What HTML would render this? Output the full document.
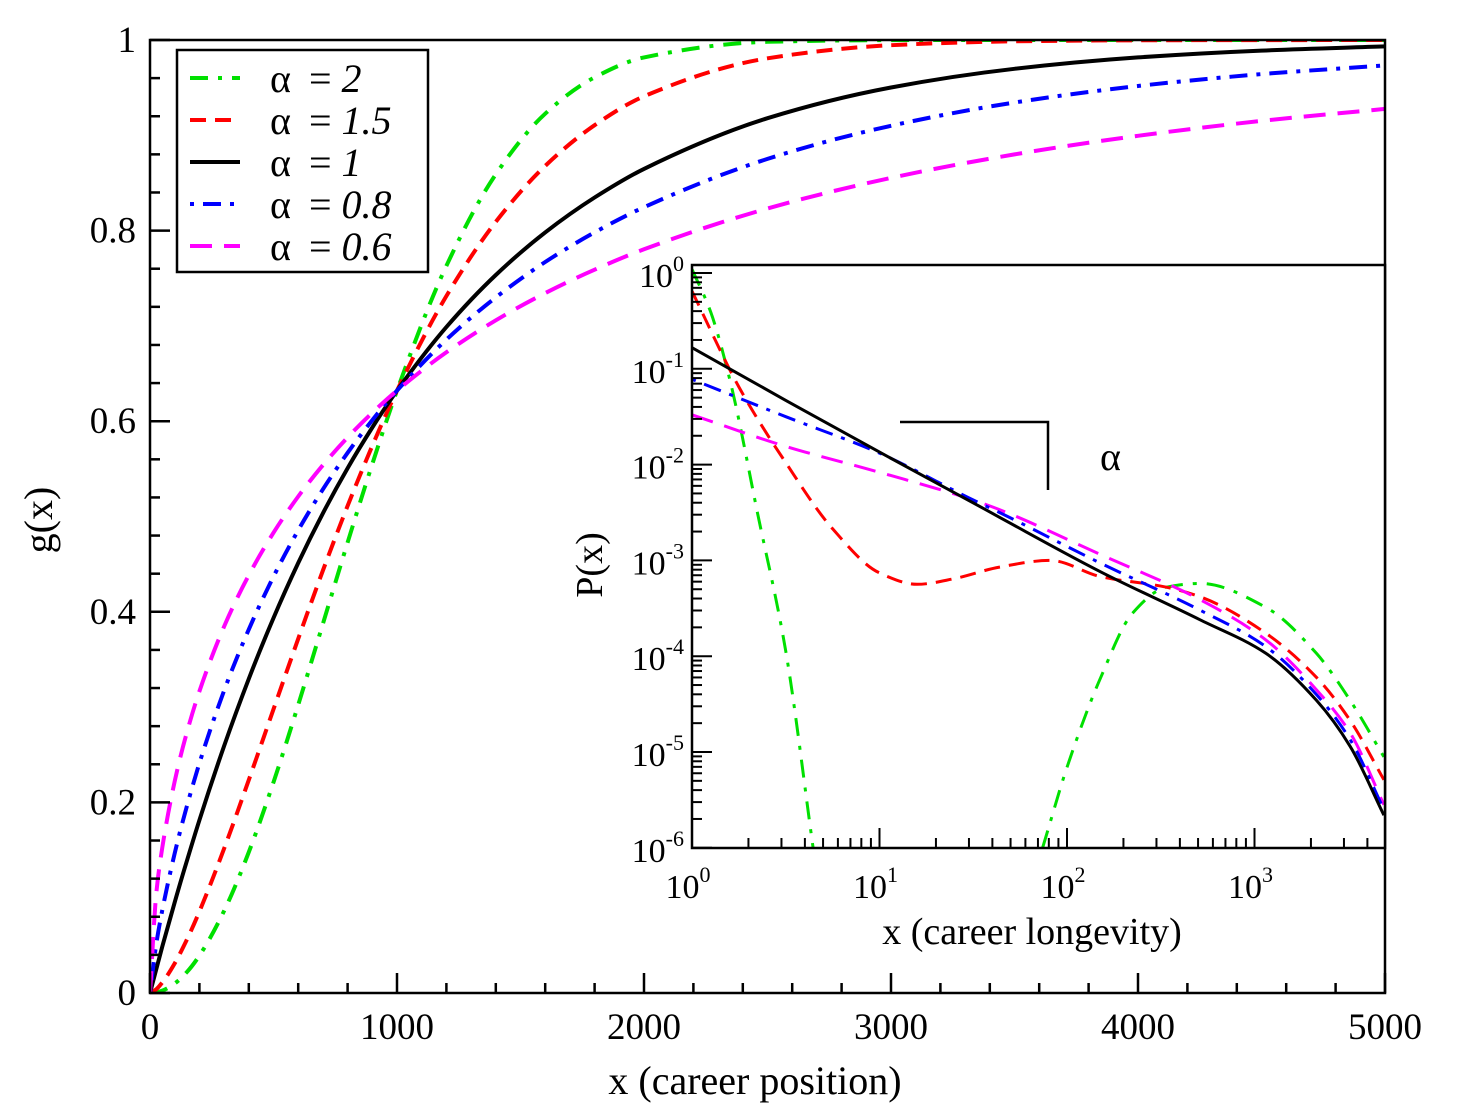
<!DOCTYPE html>
<html><head><meta charset="utf-8"><style>
html,body{margin:0;padding:0;background:#fff;}
svg{display:block;font-family:"Liberation Serif",serif;}
</style></head><body>
<svg id="chart" width="1460" height="1114" viewBox="0 0 1460 1114" xmlns="http://www.w3.org/2000/svg">
<defs>
<clipPath id="mainClip"><rect x="150" y="40" width="1235" height="953"/></clipPath>
<clipPath id="insetClip"><rect x="692" y="265" width="693" height="583"/></clipPath>
</defs>
<g id="main"></g>
<g id="inset"></g>
</svg>
<script>
// ---- main chart data ----
const xSamples = [0,25,50,100,150,200,300,400,500,600,700,800,900,1000,1200,1400,1600,1800,2000,2500,3000,3500,4000,4500,5000];
const gAlpha2  = [0,.0006,.0025,.00995,.0222,.0392,.0861,.1479,.2212,.3023,.3874,.4727,.5551,.6321,.7631,.8591,.9227,.9608,.9817,.9981,.9999,1,1,1,1];
const gAlpha15 = [0,.0039,.0111,.0311,.0565,.0855,.1515,.2236,.2978,.3717,.4433,.5111,.5742,.6321,.7314,.8092,.8679,.9106,.9409,.9808,.9945,.9986,.9997,.9999,1];
const gAlpha1  = [0,.0247,.0488,.0952,.1393,.1813,.2592,.3297,.3935,.4512,.5034,.5507,.5934,.6321,.6988,.7534,.7981,.8347,.8647,.9179,.9502,.9698,.9817,.9889,.9933];
const gAlpha08 = [0,.0509,.0870,.1466,.1968,.2411,.3173,.3815,.4369,.4855,.5285,.5668,.6012,.6321,.6856,.7299,.7670,.7981,.8246,.8752,.9100,.9344,.9517,.9642,.9733];
const gAlpha06 = [0,.1035,.1527,.2221,.2742,.3166,.3846,.4384,.4830,.5210,.5539,.5830,.6089,.6321,.6723,.7059,.7344,.7590,.7804,.8232,.8553,.8800,.8995,.9151,.9277];
const xTickLabels = ["0","1000","2000","3000","4000","5000"];
const yTickLabels = ["0","0.2","0.4","0.6","0.8","1"];
const legendLabels = ["2","1.5","1","0.8","0.6"];

// ---- inset data (log10 x, log10 P) ----
const insLogX_black = [0,0.5,1,1.5,1.64,2.18,2.71,3.06,3.33,3.51,3.69];
const insLogP_black = [-0.78,-1.33,-1.87,-2.4,-2.55,-3.12,-3.62,-3.97,-4.46,-4.94,-5.66];
const insLogX_blue  = [0,0.5,1,1.5,1.64,2.18,2.71,3.06,3.33,3.51,3.69];
const insLogP_blue  = [-1.11,-1.5,-1.88,-2.37,-2.5,-3.03,-3.52,-3.90,-4.40,-4.87,-5.6];
const insLogX_mag   = [0,0.5,1,1.5,1.64,2.18,2.71,3.06,3.33,3.51,3.69];
const insLogP_mag   = [-1.48,-1.81,-2.08,-2.37,-2.47,-2.94,-3.41,-3.83,-4.35,-4.8,-5.55];
const insLogX_red   = [0,0.25,0.5,0.75,1,1.2,1.4,1.64,1.91,2.18,2.53,2.71,3.06,3.33,3.51,3.69];
const insLogP_red   = [-0.19,-1.19,-1.98,-2.67,-3.13,-3.25,-3.19,-3.07,-3.0,-3.17,-3.28,-3.38,-3.76,-4.22,-4.67,-5.29];
const insLogX_greenA = [0,0.1,0.2,0.35,0.5,0.646];
const insLogP_greenA = [0.04,-0.41,-1.1,-2.51,-3.95,-6];
const insLogX_greenB = [1.87,2.0,2.18,2.35,2.53,2.71,3.06,3.33,3.51,3.69];
const insLogP_greenB = [-6,-5.16,-4.22,-3.55,-3.28,-3.24,-3.49,-3.97,-4.46,-5.05];
const insXTickExp = ["0","1","2","3"];
const insYTickExp = ["0","-1","-2","-3","-4","-5","-6"];

const NS="http://www.w3.org/2000/svg";
function mk(tag,attrs,parent){const e=document.createElementNS(NS,tag);for(const k in attrs)e.setAttribute(k,attrs[k]);parent.appendChild(e);return e;}
function smoothPath(pts){
  const n=pts.length;
  const h=[],s=[];
  for(let i=0;i<n-1;i++){h[i]=pts[i+1][0]-pts[i][0];s[i]=(pts[i+1][1]-pts[i][1])/(h[i]||1e-9);}
  const m=[];
  m[0]=s[0];m[n-1]=s[n-2];
  for(let i=1;i<n-1;i++){
    if(s[i-1]*s[i]<=0)m[i]=0;
    else{const w1=2*h[i]+h[i-1],w2=h[i]+2*h[i-1];m[i]=(w1+w2)/(w1/s[i-1]+w2/s[i]);}
  }
  let d="M"+pts[0][0].toFixed(1)+","+pts[0][1].toFixed(1);
  for(let i=0;i<n-1;i++){
    const dx=h[i]/3;
    d+=" C"+(pts[i][0]+dx).toFixed(1)+","+(pts[i][1]+m[i]*dx).toFixed(1)+" "+(pts[i+1][0]-dx).toFixed(1)+","+(pts[i+1][1]-m[i+1]*dx).toFixed(1)+" "+pts[i+1][0].toFixed(1)+","+pts[i+1][1].toFixed(1);
  }
  return d;
}
const styles={
  a2:{stroke:"#00e000",dash:"18,10,4,10"},
  a15:{stroke:"#ff0000",dash:"16,9"},
  a1:{stroke:"#000000",dash:""},
  a08:{stroke:"#0000ff",dash:"4,9,18,9"},
  a06:{stroke:"#ff00ff",dash:"22,12"}
};

// ---- main ----
const main=document.getElementById("main");
const X0=150,X1=1385,Y0=993,Y1=40;
const sx=v=>X0+(v/5000)*(X1-X0);
const sy=v=>Y0-v*(Y0-Y1);
const mainSeries=[["a2",gAlpha2],["a15",gAlpha15],["a1",gAlpha1],["a08",gAlpha08],["a06",gAlpha06]];
const mc=mk("g",{"clip-path":"url(#mainClip)"},main);
mainSeries.forEach(([k,vals])=>{
  const p=mk("path",{d:smoothPath(xSamples.map((x,i)=>[sx(x),sy(vals[i])])),fill:"none",stroke:styles[k].stroke,"stroke-width":4,"stroke-dasharray":styles[k].dash},mc);
  
  
});
const frame=mk("rect",{x:X0,y:Y1,width:X1-X0,height:Y0-Y1,fill:"none",stroke:"#000","stroke-width":2.5},main);


const xt=mk("g",{},main);


for(let v=0;v<=5000;v+=200){const L=(v%1000===0)?20:10;mk("line",{x1:sx(v),x2:sx(v),y1:Y0,y2:Y0-L,stroke:"#000","stroke-width":2.5},xt);}
xTickLabels.forEach((t,i)=>{
  const e=mk("text",{x:sx(i*1000),y:Y0+46,"font-size":37,"text-anchor":"middle"},xt);e.textContent=t;
  
  
});
const yt=mk("g",{},main);


for(let i=0;i<=25;i++){const v=i*0.04;const L=(i%5===0)?20:10;mk("line",{x1:X0,x2:X0+L,y1:sy(v),y2:sy(v),stroke:"#000","stroke-width":2.5},yt);}
yTickLabels.forEach((t,i)=>{
  const e=mk("text",{x:X0-14,y:sy(i*0.2)+12,"font-size":37,"text-anchor":"end"},yt);e.textContent=t;
  
  
});
const xtitle=mk("text",{x:755,y:1094,"font-size":40,"text-anchor":"middle"},main);xtitle.textContent="x (career position)";


const ytitle=mk("text",{x:0,y:0,"font-size":40,"text-anchor":"middle",transform:"translate(52,520) rotate(-90)"},main);ytitle.textContent="g(x)";



// legend
const leg=mk("g",{},main);


mk("rect",{x:177,y:50,width:251,height:222,fill:"#fff",stroke:"#000","stroke-width":2.5},leg);
["a2","a15","a1","a08","a06"].forEach((k,i)=>{
  const y=78+i*42;
  const g=mk("g",{},leg);
  
  
  mk("line",{x1:190,x2:240,y1:y,y2:y,stroke:styles[k].stroke,"stroke-width":4,"stroke-dasharray":styles[k].dash},g);
  const t=mk("text",{x:270,y:y+14,"font-size":40},g);
  t.innerHTML='α <tspan dx="8">=</tspan> <tspan font-style="italic">'+legendLabels[i]+'</tspan>';
});

// ---- inset ----
const ins=document.getElementById("inset");
const IX0=692,IX1=1385,IYT=265,IYB=848;
const decX=187.5, decY=95.8, IY0=273;
const lx=l=>IX0+l*decX;
const ly=l=>IY0-l*decY;
mk("rect",{x:IX0,y:IYT,width:IX1-IX0,height:IYB-IYT,fill:"#fff"},ins);
const ic=mk("g",{"clip-path":"url(#insetClip)"},ins);
const insSeries=[["a2",insLogX_greenA,insLogP_greenA],["a2",insLogX_greenB,insLogP_greenB],["a15",insLogX_red,insLogP_red],["a06",insLogX_mag,insLogP_mag],["a08",insLogX_blue,insLogP_blue],["a1",insLogX_black,insLogP_black]];
insSeries.forEach(([k,xs,ys])=>{
  const p=mk("path",{d:smoothPath(xs.map((x,i)=>[lx(x),ly(ys[i])])),fill:"none",stroke:styles[k].stroke,"stroke-width":3,"stroke-dasharray":styles[k].dash},ic);
  
  
});
const iframe=mk("rect",{x:IX0,y:IYT,width:IX1-IX0,height:IYB-IYT,fill:"none",stroke:"#000","stroke-width":2.5},ins);


const ixt=mk("g",{},ins);


for(let d=0;d<4;d++){for(let m=1;m<=9;m++){const x=lx(d+Math.log10(m));if(x>IX1)break;const L=m===1?20:10;mk("line",{x1:x,x2:x,y1:IYB,y2:IYB-L,stroke:"#000","stroke-width":2},ixt);}}
insXTickExp.forEach((e,i)=>{
  const t=mk("text",{x:lx(i)-4,y:IYB+50,"font-size":34,"text-anchor":"middle"},ixt);
  t.innerHTML='10<tspan font-size="22" dy="-16">'+e+'</tspan>';
  
  
});
const iyt=mk("g",{},ins);


for(let d=0;d<6;d++){for(let m=1;m<=9;m++){const y=ly(-d-1+Math.log10(m));const L=m===1?20:10;mk("line",{x1:IX0,x2:IX0+L,y1:y,y2:y,stroke:"#000","stroke-width":2},iyt);}}
mk("line",{x1:IX0,x2:IX0+20,y1:ly(0),y2:ly(0),stroke:"#000","stroke-width":2},iyt);
insYTickExp.forEach((e,i)=>{
  const t=mk("text",{x:IX0-8,y:ly(-i)+14,"font-size":34,"text-anchor":"end"},iyt);
  t.innerHTML='10<tspan font-size="22" dy="-16">'+e+'</tspan>';
  
  
});
const ixtitle=mk("text",{x:1032,y:944,"font-size":38,"text-anchor":"middle"},ins);ixtitle.textContent="x (career longevity)";


const iytitle=mk("text",{x:0,y:0,"font-size":38,"text-anchor":"middle",transform:"translate(602,565) rotate(-90)"},ins);iytitle.textContent="P(x)";


const slope=mk("path",{d:"M900,422 L1048,422 L1048,490",fill:"none",stroke:"#000","stroke-width":2.5},ins);


const al=mk("text",{x:1100,y:470,"font-size":40},ins);al.textContent="α";


</script>
</body></html>
